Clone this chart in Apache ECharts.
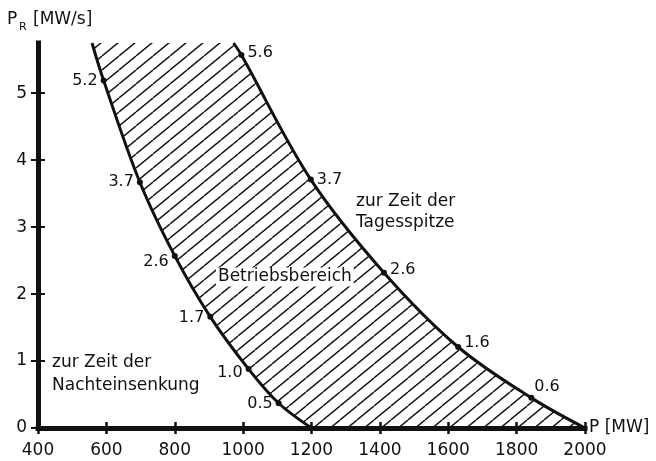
<!DOCTYPE html>
<html>
<head>
<meta charset="utf-8">
<script src="https://cdn.jsdelivr.net/npm/echarts@6/dist/echarts.min.js"></script>
<style>
html, body { margin: 0; padding: 0; background: #fff; }
#chart { width: 656px; height: 461px; }
</style>
</head>
<body>
<div id="chart"></div>
<script>
// Regelleistung P_R ueber Netzlast P

var xTicks = [400, 600, 800, 1000, 1200, 1400, 1600, 1800, 2000];
var yTicks = [0, 1, 2, 3, 4, 5];
var yTop = 5.75;

// Kurve "zur Zeit der Nachteinsenkung"
var nightP = [558, 592, 698, 800, 904, 1016, 1104, 1200];
var nightPR = [5.75, 5.19, 3.67, 2.57, 1.66, 0.88, 0.37, 0];
var nightLabels = ['', '5.2', '3.7', '2.6', '1.7', '1.0', '0.5', ''];

// Kurve "zur Zeit der Tagesspitze"
var peakP = [972, 995, 1198, 1412, 1629, 1843, 2000];
var peakPR = [5.75, 5.57, 3.71, 2.32, 1.21, 0.45, 0];
var peakLabels = ['', '5.6', '3.7', '2.6', '1.6', '0.6', ''];

// oberer Rand des Betriebsbereichs
var capP = [558, 972];
var capPR = [yTop, yTop];

var FONT = '"DejaVu Sans", "Liberation Sans", sans-serif';
var INK = '#111';

// label offsets (nur Darstellung)
var nightOffsets = [[0, 0], [0, 0], [0, 0], [0, 6], [0, 1], [0, 4], [0, 1], [0, 0]];
var peakOffsets = [[0, 0], [0, -2], [0, 0], [0, -3], [0, -4], [-3, -11], [0, 0]];

function hatchCanvas() {
    var w = 17, h = 14;
    var c = document.createElement('canvas');
    c.width = w;
    c.height = h;
    var ctx = c.getContext('2d');
    ctx.strokeStyle = INK;
    ctx.lineWidth = 1.4;
    for (var k = -1; k <= 1; k++) {
        ctx.beginPath();
        ctx.moveTo(k * w, h);
        ctx.lineTo(k * w + w, 0);
        ctx.stroke();
    }
    return c;
}
var hatch = { image: hatchCanvas(), repeat: 'repeat' };

function buildData(xs, ys, offsets) {
    var out = [];
    for (var i = 0; i < xs.length; i++) {
        out.push({ value: [xs[i], ys[i]], label: { offset: offsets[i] } });
    }
    return out;
}

function curve(name, xs, ys, labels, offsets, pos, area, z) {
    return {
        name: name,
        type: 'line',
        data: buildData(xs, ys, offsets),
        smooth: 0.35,
        symbol: 'circle',
        symbolSize: function (v, p) { return labels[p.dataIndex] ? 6 : 0; },
        itemStyle: { color: INK },
        lineStyle: { color: INK, width: 3 },
        areaStyle: area,
        label: {
            show: true,
            position: pos,
            distance: 3,
            fontFamily: FONT,
            fontSize: 16,
            color: INK,
            formatter: function (p) { return labels[p.dataIndex]; }
        },
        silent: true,
        animation: false,
        z: z
    };
}

var axisText = { fontFamily: FONT, fontSize: 17, color: INK };

function note(x, y, text) {
    return {
        type: 'text', x: x, y: y, z: 100,
        style: { text: text, font: '17px ' + FONT, fill: INK, verticalAlign: 'middle' }
    };
}

var myChart = echarts.init(document.getElementById('chart'));

var option = {
    backgroundColor: '#fff',
    animation: false,
    grid: { left: 38, right: 71, top: 43, bottom: 33 },
    xAxis: [{
        type: 'value',
        min: 400, max: 2000, interval: 200,
        axisLine: { lineStyle: { color: INK, width: 5, cap: 'square' } },
        axisTick: { length: 6, lineStyle: { color: INK, width: 2.5 } },
        axisLabel: Object.assign({
            margin: 14,
            customValues: xTicks,
            formatter: function (v) { return String(v); }
        }, axisText),
        splitLine: { show: false },
        name: 'P [MW]',
        nameLocation: 'end',
        nameGap: 4,
        nameTextStyle: axisText,
        z: 10
    }, {
        type: 'value',
        min: 400, max: 2000, interval: 200,
        position: 'bottom',
        axisLine: { show: false },
        axisTick: { inside: true, length: 6, lineStyle: { color: INK, width: 2.5 } },
        axisLabel: { show: false },
        splitLine: { show: false },
        z: 10
    }],
    yAxis: [{
        type: 'value',
        min: 0, max: yTop, interval: 1,
        axisLine: { show: true, lineStyle: { color: INK, width: 5, cap: 'square' } },
        axisTick: { show: true, length: 7, customValues: yTicks, lineStyle: { color: INK, width: 2 } },
        axisLabel: Object.assign({
            margin: 11,
            customValues: yTicks,
            formatter: function (v) { return String(v); }
        }, axisText),
        splitLine: { show: false },
        z: 10
    }, {
        type: 'value',
        min: 0, max: yTop, interval: 1,
        position: 'left',
        axisLine: { show: false },
        axisTick: { show: true, inside: true, length: 7, customValues: yTicks, lineStyle: { color: INK, width: 2 } },
        axisLabel: { show: false },
        splitLine: { show: false },
        z: 10
    }],
    series: [
        {
            name: 'Betriebsbereich oben',
            type: 'line',
            data: capP.map(function (x, i) { return [x, capPR[i]]; }),
            symbol: 'none',
            lineStyle: { width: 0 },
            areaStyle: { color: hatch, opacity: 1 },
            silent: true,
            animation: false,
            z: 1
        },
        curve('Tagesspitze', peakP, peakPR, peakLabels, peakOffsets, 'right',
            { color: hatch, opacity: 1 }, 2),
        curve('Nachteinsenkung', nightP, nightPR, nightLabels, nightOffsets, 'left',
            { color: '#fff', opacity: 1 }, 3)
    ],
    graphic: [
        note(7, 20, 'P'),
        {
            type: 'text', x: 19, y: 27, z: 100,
            style: { text: 'R', font: '11px ' + FONT, fill: INK, verticalAlign: 'middle' }
        },
        note(33, 20, '[MW/s]'),
        note(356, 202, 'zur Zeit der'),
        note(356, 223, 'Tagesspitze'),
        note(52, 363, 'zur Zeit der'),
        note(52, 386, 'Nachteinsenkung'),
        {
            type: 'text', x: 216, y: 277, z: 100,
            style: {
                text: 'Betriebsbereich', font: '17px ' + FONT, fill: INK, verticalAlign: 'middle',
                backgroundColor: '#fff', padding: [1, 2, 1, 2]
            }
        }
    ]
};

myChart.setOption(option);
</script>
</body>
</html>
